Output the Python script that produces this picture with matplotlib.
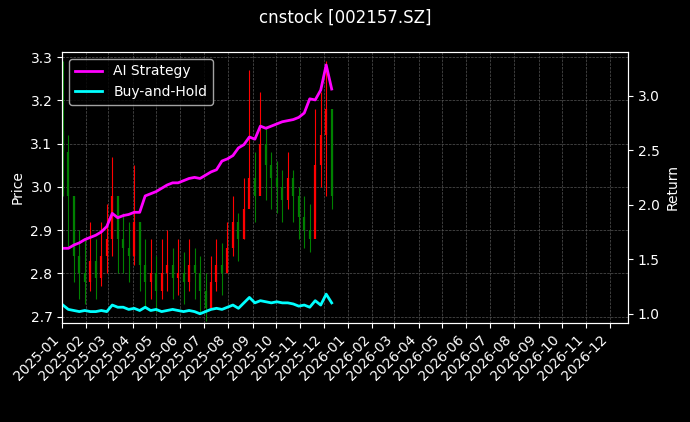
import matplotlib
matplotlib.use("Agg")
import matplotlib.pyplot as plt
import matplotlib.dates as mdates
import pandas as pd

dates = pd.date_range("2025-01-02", periods=50, freq="7D")

# weekly close / high / low
close = [3.08, 2.98, 2.84, 2.80, 2.78, 2.83, 2.79, 2.84, 2.88, 2.98, 2.88, 2.86, 2.84,
         2.92, 2.82, 2.78, 2.80, 2.76, 2.80, 2.82, 2.79, 2.80, 2.78, 2.82, 2.80, 2.76,
         2.72, 2.78, 2.82, 2.80, 2.86, 2.92, 2.88, 2.95, 3.02, 2.98, 3.10, 3.05, 3.02,
         3.00, 2.97, 3.02, 2.98, 2.93, 2.90, 2.88, 3.05, 3.12, 3.18, 2.98]
high = [3.29, 3.12, 2.98, 2.90, 2.88, 2.92, 2.88, 2.92, 2.96, 3.07, 2.96, 2.94, 2.92,
        3.05, 2.92, 2.88, 2.88, 2.84, 2.88, 2.90, 2.86, 2.88, 2.85, 2.88, 2.86, 2.84,
        2.80, 2.84, 2.88, 2.87, 2.92, 2.98, 2.94, 3.02, 3.27, 3.08, 3.22, 3.14, 3.08,
        3.06, 3.04, 3.08, 3.04, 3.00, 2.98, 2.96, 3.18, 3.22, 3.29, 3.10]
low = [2.98, 2.86, 2.78, 2.74, 2.73, 2.76, 2.74, 2.77, 2.80, 2.84, 2.80, 2.80, 2.78,
       2.82, 2.76, 2.72, 2.74, 2.71, 2.74, 2.76, 2.74, 2.75, 2.73, 2.76, 2.74, 2.71,
       2.69, 2.72, 2.76, 2.75, 2.80, 2.84, 2.83, 2.88, 2.96, 2.92, 3.00, 2.97, 2.95,
       2.94, 2.92, 2.95, 2.92, 2.88, 2.86, 2.85, 2.92, 3.00, 2.98, 2.95]
ai_ret = [1.60, 1.60, 1.63, 1.65, 1.68, 1.70, 1.72, 1.75, 1.80, 1.92, 1.88, 1.90, 1.91,
          1.93, 1.93, 2.08, 2.10, 2.12, 2.15, 2.18, 2.20, 2.20, 2.22, 2.24, 2.25, 2.24,
          2.27, 2.30, 2.32, 2.40, 2.42, 2.45, 2.52, 2.55, 2.62, 2.60, 2.72, 2.70, 2.72,
          2.74, 2.76, 2.77, 2.78, 2.80, 2.84, 2.97, 2.96, 3.05, 3.28, 3.06]
bh_ret = [1.08, 1.04, 1.03, 1.02, 1.03, 1.02, 1.02, 1.03, 1.02, 1.08, 1.06, 1.06, 1.04,
          1.05, 1.03, 1.06, 1.03, 1.04, 1.02, 1.03, 1.04, 1.03, 1.02, 1.03, 1.02, 1.00,
          1.02, 1.04, 1.05, 1.04, 1.06, 1.08, 1.05, 1.10, 1.15, 1.10, 1.12, 1.11, 1.10,
          1.11, 1.10, 1.10, 1.09, 1.07, 1.08, 1.06, 1.12, 1.08, 1.18, 1.10]

opens = [close[0] + 0.05] + close[:-1]

plt.style.use("dark_background")
fig, ax = plt.subplots(figsize=(6.9, 4.22), dpi=100)
fig.patch.set_facecolor("black")
ax.set_facecolor("black")

for d, o, h, l, c in zip(dates, opens, high, low, close):
    col = "red" if c >= o else "green"
    ax.vlines(d, l, h, color=col, lw=0.8)
    ax.vlines(d, min(o, c), max(o, c), color=col, lw=1.6)

ax.set_ylabel("Price")
ax.set_ylim(2.686, 3.312)
ax.grid(True, color="#555555", ls="--", lw=0.5)
ax.set_xlim(pd.Timestamp("2025-01-01"), pd.Timestamp("2026-12-24"))
ax.xaxis.set_major_locator(mdates.MonthLocator())
ax.xaxis.set_major_formatter(mdates.DateFormatter("%Y-%m"))
plt.setp(ax.get_xticklabels(), rotation=45, ha="right")

ax2 = ax.twinx()
ax2.plot(dates, ai_ret, color="magenta", lw=2, label="AI Strategy")
ax2.plot(dates, bh_ret, color="cyan", lw=2, label="Buy-and-Hold")
ax2.set_ylim(0.917, 3.40)
ax2.set_ylabel("Return")
ax2.legend(loc="upper left")

fig.suptitle("cnstock [002157.SZ]")
fig.subplots_adjust(left=0.09, right=0.91, top=0.877, bottom=0.235)
fig.savefig("out.png", dpi=100)
